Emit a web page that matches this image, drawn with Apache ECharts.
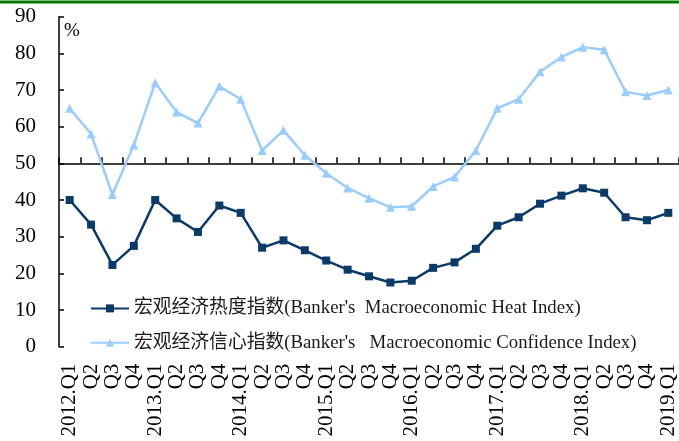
<!DOCTYPE html>
<html>
<head>
<meta charset="utf-8">
<script src="https://cdn.jsdelivr.net/npm/echarts@6/dist/echarts.min.js"></script>
<style>html,body{margin:0;padding:0;background:#fff;}#c{width:679px;height:441px;}</style>
</head>
<body>
<div id="c"></div>
<script>
const categories = ['2012.Q1','Q2','Q3','Q4','2013.Q1','Q2','Q3','Q4','2014.Q1','Q2','Q3','Q4','2015.Q1','Q2','Q3','Q4','2016.Q1','Q2','Q3','Q4','2017.Q1','Q2','Q3','Q4','2018.Q1','Q2','Q3','Q4','2019.Q1'];
const heatIndex = [40, 33.3, 22.3, 27.5, 40, 35, 31.3, 38.5, 36.5, 27, 29, 26.3, 23.5, 21, 19.2, 17.5, 18, 21.5, 23, 26.7, 33, 35.3, 39, 41.2, 43.2, 42, 35.3, 34.5, 36.5];
const confidenceIndex = [65, 58, 41.5, 55, 72, 64, 61, 71, 67.5, 53.5, 59, 52.2, 47.3, 43.3, 40.5, 38, 38.3, 43.7, 46.3, 53.5, 65, 67.5, 75, 79, 81.7, 81, 69.5, 68.5, 70];
const yTicks = {min: 0, max: 90, interval: 10};
const names = ["宏观经济热度指数(Banker's  Macroeconomic Heat Index)", "宏观经济信心指数(Banker's   Macroeconomic Confidence Index)"];

const serif = "'Liberation Serif', 'Times New Roman', 'Noto Sans CJK SC', serif";
const chart = echarts.init(document.getElementById('c'), null, {renderer: 'canvas'});
chart.setOption({
  animation: false,
  backgroundColor: '#fff',
  grid: {left: 59, right: 0, top: 16.7, bottom: 94.3, containLabel: false},
  legend: {
    orient: 'vertical', left: 85, top: 294, itemWidth: 38, itemHeight: 10, itemGap: 15.5,
    textStyle: {fontFamily: serif, fontSize: 18.8, color: '#1a1a1a'},
    data: names
  },
  graphic: [
    {type: 'line', shape: {x1: 0, y1: 2, x2: 679, y2: 2}, style: {stroke: '#007a00', lineWidth: 3}},
    {type: 'text', left: 64, top: 22, style: {text: '%', font: '19px ' + serif, fill: '#000'}}
  ],
  xAxis: [
    {
      type: 'category', data: categories, position: 'bottom', boundaryGap: true,
      axisLine: {show: false}, axisTick: {show: false},
      axisLabel: {rotate: 90, interval: 0, margin: 17, fontFamily: serif, fontSize: 21, color: '#000'}
    },
    {
      type: 'category', data: categories, position: 'bottom', offset: -183.4, boundaryGap: true,
      axisLine: {show: true, lineStyle: {color: '#000', width: 1.5}},
      axisTick: {show: true, inside: true, length: 6, interval: 0, lineStyle: {color: '#000', width: 1.5}},
      axisLabel: {show: false}
    }
  ],
  yAxis: {
    type: 'value', min: yTicks.min, max: yTicks.max, interval: yTicks.interval,
    axisLine: {show: true, lineStyle: {color: '#000', width: 1.5}},
    axisTick: {show: true, inside: true, length: 5, lineStyle: {color: '#000', width: 1.5}},
    splitLine: {show: false},
    axisLabel: {margin: 23, fontFamily: serif, fontSize: 21, color: '#000'}
  },
  series: [
    {
      name: names[0], type: 'line', data: heatIndex, xAxisIndex: 0,
      symbol: 'rect', symbolSize: 8, showAllSymbol: true,
      lineStyle: {color: '#0a3a6a', width: 2.5}, itemStyle: {color: '#0a3a6a'}
    },
    {
      name: names[1], type: 'line', data: confidenceIndex, xAxisIndex: 0,
      symbol: 'triangle', symbolSize: 9, showAllSymbol: true,
      lineStyle: {color: '#99ccff', width: 2.5}, itemStyle: {color: '#99ccff'}
    }
  ]
});
</script>
</body>
</html>
